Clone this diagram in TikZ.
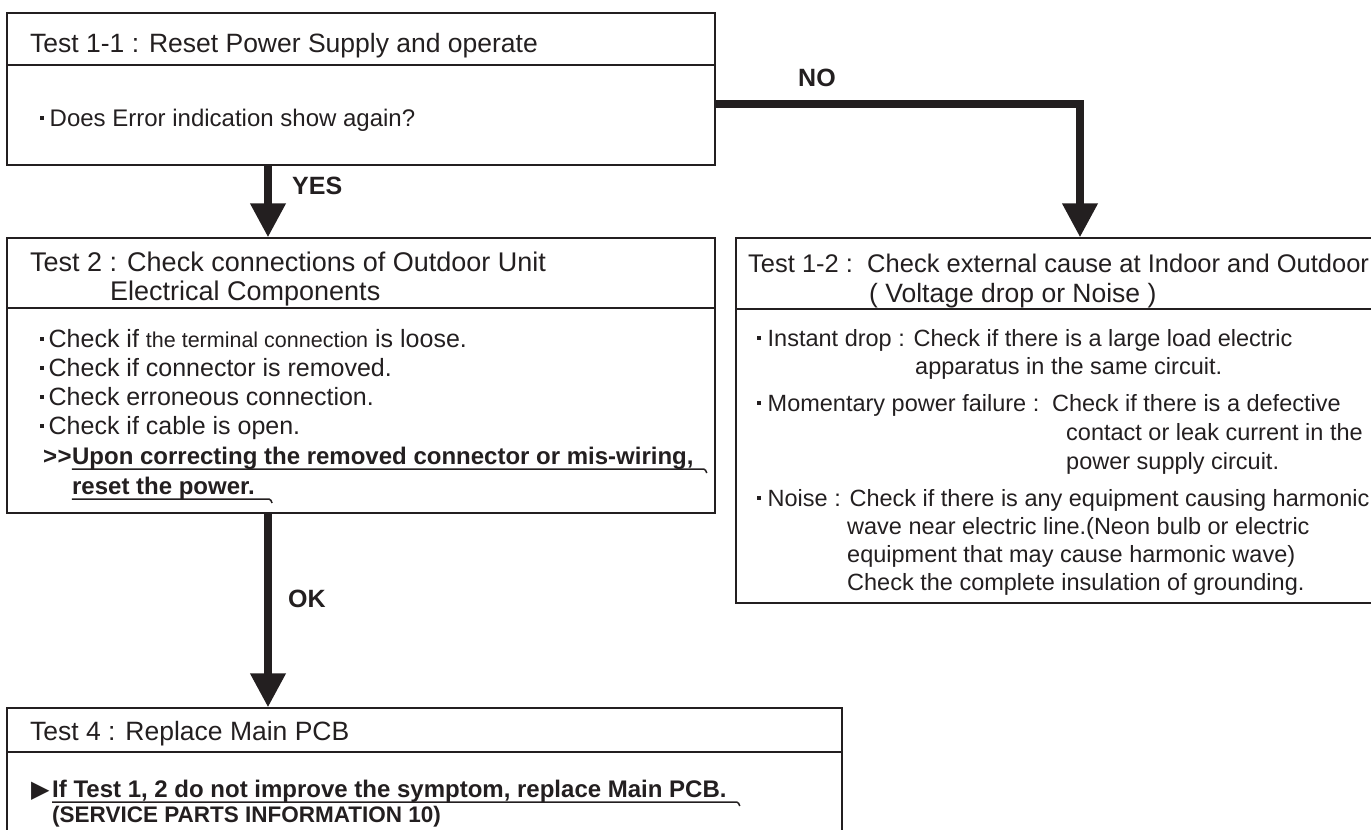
\documentclass[tikz,border=0pt]{standalone}
\usepackage{fontspec}
\setmainfont{Liberation Sans}
\newfontfamily\symfont{DejaVu Sans}
\usetikzlibrary{arrows.meta}
\definecolor{ink}{RGB}{35,31,32}
\newcommand\sqdot{\rule[0.26em]{3.5pt}{3.5pt}}
\tikzset{
  box/.style={draw=ink, line width=1.5pt, inner sep=0pt},
  txt/.style={anchor=base west, inner sep=0pt, text=ink},
  ttl/.style={txt, font=\fontsize{26.5}{30}\selectfont},
  bdy/.style={txt, font=\fontsize{24}{28}\selectfont},
  bld/.style={txt, font=\fontsize{24}{28}\selectfont\bfseries},
  lbl/.style={txt, font=\fontsize{25}{29}\selectfont\bfseries},
  flow/.style={draw=ink, line width=7.5pt, line join=miter, -{Triangle[width=34pt,length=34pt]}},
  uline/.style={draw=ink, line width=1.5pt}
}

\begin{document}
\begin{tikzpicture}[x=1pt, y=-1pt, font=\fontsize{25}{29}\selectfont]
\useasboundingbox (0,0) rectangle (1371,830);
\clip (0,0) rectangle (1371,830);

% boxes
\node[box, minimum width=708pt, minimum height=152pt] (t11) at (361,89) {};
\node[box, minimum width=708pt, minimum height=275pt] (t2) at (361,375.5) {};
\node[box, minimum width=674pt, minimum height=365pt] (t12) at (1073,420.5) {};
\node[box, minimum width=835pt, minimum height=172pt] (t4) at (424.5,794) {};
\draw[uline] (t11.west |- 0,65) -- (t11.east |- 0,65);
\draw[uline] (t2.west |- 0,308) -- (t2.east |- 0,308);
\draw[uline] (t12.west |- 0,309) -- (t12.east |- 0,309);
\draw[uline] (t4.west |- 0,752) -- (t4.east |- 0,752);

% Test 1-1
\node[ttl] (h11) at (30,52) {Test 1-1 : Reset Power Supply and operate};
\node[bdy] (q11) at (40,126) {\sqdot\hspace{6pt}Does Error indication show again?};

% Test 2
\node[ttl, font=\fontsize{27}{30}\selectfont] (h2a) at (30,271) {Test 2 : Check connections of Outdoor Unit};
\node[ttl, font=\fontsize{27}{30}\selectfont] (h2b) at (110,300) {Electrical Components};
\node[txt] (c1) at (40,347) {\sqdot\hspace{5pt}Check if {\fontsize{21.5}{25}\selectfont the terminal connection} is loose.};
\node[txt] (c2) at (40,376) {\sqdot\hspace{5pt}Check if connector is removed.};
\node[txt] (c3) at (40,405) {\sqdot\hspace{5pt}Check erroneous connection.};
\node[txt] (c4) at (40,434) {\sqdot\hspace{5pt}Check if cable is open.};
\node[bld] (gt) at (43,464) {>\kern0.5pt>};
\node[bld] (u1) at (gt.base east) {Upon correcting the removed connector or mis-wiring,};
\node[bld] (u2) at (u1.base west |- 0,494) {reset the power.};
\draw[uline] ([yshift=-5pt]u1.base west) -- ([xshift=10pt,yshift=-5pt]u1.base east) to[out=0,in=120] ++(3pt,-4pt);
\draw[uline] ([yshift=-5pt]u2.base west) -- ([xshift=14pt,yshift=-5pt]u2.base east) to[out=0,in=120] ++(3pt,-4pt);

% Test 1-2
\node[ttl, font=\fontsize{25.5}{30}\selectfont] (h12a) at (748,272) {Test 1-2 :\ \ Check external cause at Indoor and Outdoor};
\node[ttl] (h12b) at (869,302) {( Voltage drop or Noise )};
\node[bdy, font=\fontsize{23.5}{28}\selectfont] (e1) at (757,346) {\sqdot\hspace{7pt}Instant drop : Check if there is a large load electric};
\node[bdy, font=\fontsize{23.5}{28}\selectfont] (e1b) at (915,374) {apparatus in the same circuit.};
\node[bdy, font=\fontsize{23.5}{28}\selectfont] (e2) at (757,411) {\sqdot\hspace{7pt}Momentary power failure : \hspace{4pt}Check if there is a defective};
\node[bdy, font=\fontsize{23.5}{28}\selectfont] (e2b) at (1066,440) {contact or leak current in the};
\node[bdy, font=\fontsize{23.5}{28}\selectfont] (e2c) at (1066,469) {power supply circuit.};
\node[bdy, font=\fontsize{23.5}{28}\selectfont] (e3) at (757,506) {\sqdot\hspace{7pt}Noise : Check if there is any equipment causing harmonic};
\node[bdy, font=\fontsize{23.5}{28}\selectfont] (e3b) at (847,534) {wave near electric line.(Neon bulb or electric};
\node[bdy, font=\fontsize{23.5}{28}\selectfont] (e3c) at (847,562) {equipment that may cause harmonic wave)};
\node[bdy, font=\fontsize{23.5}{28}\selectfont] (e3d) at (847,590) {Check the complete insulation of grounding.};

% Test 4
\node[ttl] (h4) at (30,740) {Test 4 : Replace Main PCB};
\node[txt] (tri) at (31,797) {\symfont\fontsize{24}{28}\selectfont ▶};
\node[bld] (u3) at (52,797) {If Test 1, 2 do not improve the symptom, replace Main PCB.};
\node[bld, font=\fontsize{22.5}{26}\selectfont\bfseries] (sp) at (52,822) {(SERVICE PARTS INFORMATION 10)};
\draw[uline] ([yshift=-5pt]u3.base west) -- ([xshift=10pt,yshift=-5pt]u3.base east) to[out=0,in=120] ++(3pt,-4pt);

% connectors
\coordinate (yx) at (268,0);
\coordinate (nob) at (1080,104);
\draw[flow] (t11.south -| yx) -- (t2.north -| yx);
\draw[flow] (t11.east |- nob) -- (nob) -- (t12.north -| nob);
\draw[flow] (t2.south -| yx) -- (t4.north -| yx);
\node[lbl] (yes) at (292,194) {YES};
\node[lbl] (no) at (798,86) {NO};
\node[lbl] (ok) at (288,607) {OK};
\end{tikzpicture}
\end{document}
